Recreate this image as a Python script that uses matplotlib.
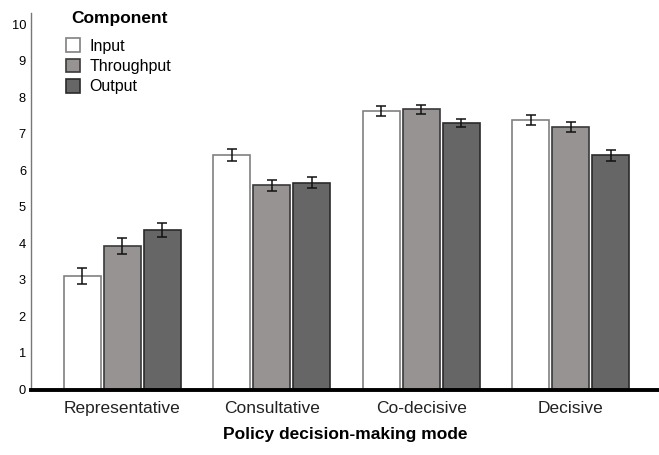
import numpy as np
import matplotlib.pyplot as plt
from matplotlib.patches import Patch

plt.rcParams['font.family'] = ['Liberation Sans', 'DejaVu Sans']

# mean scores and error bar half-widths per decision-making mode
modes = ["Representative", "Consultative", "Co-decisive", "Decisive"]
components = ["Input", "Throughput", "Output"]
input_mean = [3.11, 6.42, 7.62, 7.38]
throughput_mean = [3.93, 5.60, 7.67, 7.20]
output_mean = [4.37, 5.66, 7.30, 6.41]
input_err = [0.21, 0.16, 0.14, 0.14]
throughput_err = [0.21, 0.15, 0.13, 0.14]
output_err = [0.19, 0.15, 0.12, 0.14]

means = [input_mean, throughput_mean, output_mean]
errs = [input_err, throughput_err, output_err]
fills = ["#ffffff", "#979392", "#666666"]
edges = ["#808080", "#3a3a3a", "#2a2a2a"]

W, H = 659, 455
fig = plt.figure(figsize=(W / 100, H / 100), dpi=100)
ax = fig.add_axes([31 / W, (H - 389.5) / H, 1 - 31 / W, (389.5 - 12.7) / H])

x = np.arange(len(modes))
step = 40 / 150
width = 37 / 150
for i in range(3):
    pos = x + (i - 1) * step
    ax.bar(pos, means[i], width=width, color=fills[i], edgecolor=edges[i],
           linewidth=1.2, zorder=2)
    ax.errorbar(pos, means[i], yerr=errs[i], fmt="none", ecolor="#111111",
                elinewidth=1.1, capsize=3.6, capthick=1.1, zorder=3)

ax.set_xlim(-0.61, 3.59)
ax.set_ylim(0, 10.32)
ax.set_yticks(range(0, 11))
ax.tick_params(axis="y", length=0, labelsize=9.3, pad=3.6)
ax.tick_params(axis="x", length=0, labelsize=12.5, pad=8)
ax.set_xticks(x)
ax.set_xticklabels(modes, color="#222222")

for s in ["top", "right"]:
    ax.spines[s].set_visible(False)
ax.spines["left"].set_color("#777777")
ax.spines["left"].set_linewidth(1.0)
ax.spines["bottom"].set_color("black")
ax.spines["bottom"].set_linewidth(2.8)

ax.set_xlabel("Policy decision-making mode", fontsize=12.5, fontweight="bold", labelpad=8)

# legend entries, with the title drawn on its own above them
handles = [Patch(facecolor=fills[i], edgecolor=edges[i], linewidth=1.2) for i in range(3)]
ax.legend(handles, components, loc="upper left",
          bbox_to_anchor=(60 / W, (H - 32) / H), bbox_transform=fig.transFigure,
          frameon=False, fontsize=11.5,
          handlelength=0.85, handleheight=0.95, handletextpad=0.6,
          labelspacing=0.3, borderaxespad=0)
fig.text(119 / W, (H - 18) / H, "Component", fontsize=12.5, fontweight="bold",
         ha="center", va="center")

fig.savefig("out.png", dpi=100)
